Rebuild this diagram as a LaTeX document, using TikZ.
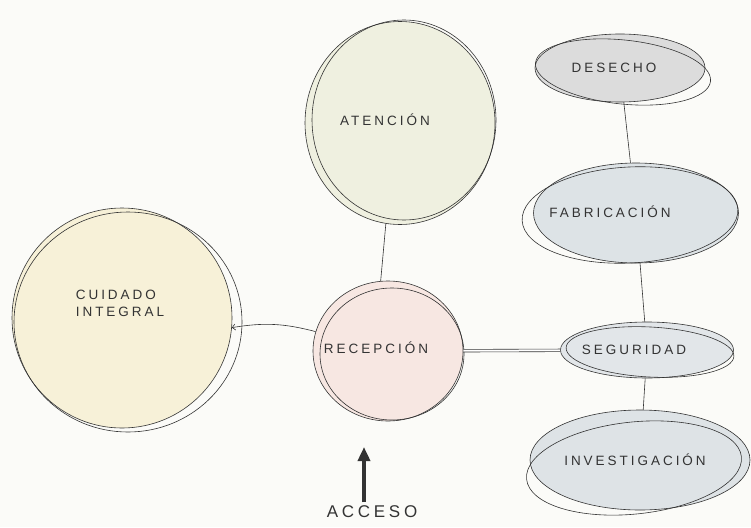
\documentclass[tikz,border=0pt]{standalone}
\usepackage{fontspec}
\setmainfont{Liberation Sans}
\newfontfamily\mano[LetterSpace=22]{Liberation Sans}
\usetikzlibrary{shapes.geometric,arrows.meta}
\definecolor{fondo}{HTML}{FBFBF8}
\definecolor{cuidado}{HTML}{F7F1D8}
\definecolor{atencion}{HTML}{EFF0E0}
\definecolor{recepcion}{HTML}{F7E7E2}
\definecolor{desecho}{HTML}{DCDCDC}
\definecolor{fabrica}{HTML}{DDE3E6}
\definecolor{seguridad}{HTML}{E2E6E9}
\definecolor{investiga}{HTML}{DEE3E6}
\begin{document}
\begin{tikzpicture}[x=1pt,y=-1pt,
  trazo/.style={draw=black!80,line width=0.6pt},
  burbuja/.style={trazo,ellipse,inner sep=0pt},
  rotulo/.style={font=\mano\fontsize{13.5}{17}\selectfont,text=black!80,align=left},
  enlace/.style={black!80,line width=0.6pt}]
\fill[fondo](0,0)rectangle(751,527);
\useasboundingbox(0,0)rectangle(751,527);
%
\node[burbuja,fill=cuidado,minimum width=220pt,minimum height=220pt](cui)at(122,318){};
\node[burbuja,fill=atencion,minimum width=190pt,minimum height=203pt](ate)at(400,123){};
\node[burbuja,fill=recepcion,minimum width=150pt,minimum height=140pt](rec)at(388,351){};
\node[burbuja,fill=desecho,minimum width=170pt,minimum height=68pt](des)at(620,68){};
\node[burbuja,fill=fabrica,minimum width=205pt,minimum height=100pt](fab)at(636,213){};
\node[burbuja,fill=seguridad,minimum width=173pt,minimum height=56pt](seg)at(647,350){};
\node[burbuja,fill=investiga,minimum width=220pt,minimum height=100pt](inv)at(640,460){};
%
\foreach \n/\dx/\dy/\rx/\ry/\r in {cui/6/4/114/110/0,ate/4/-3/92/100/0,rec/4/3/72/66/0,
  des/3/4/88/32/-6,fab/-6/2/108/48/3,seg/3/2/84/25/-3,inv/-6/8/108/46/6}
  \draw[trazo]([shift={(\dx,\dy)}]\n.center)ellipse[x radius=\rx pt,y radius=\ry pt,rotate=\r];
%
\node[rotulo](cuiT)at(120,303){CUIDADO\\INTEGRAL};
\node[rotulo](ateT)at(385,120){ATENCIÓN};
\node[rotulo](recT)at(376,348){RECEPCIÓN};
\node[rotulo](desT)at(614,68){DESECHO};
\node[rotulo](fabT)at(610,212){FABRICACIÓN};
\node[rotulo](segT)at(634,350){SEGURIDAD};
\node[rotulo](invT)at(635,460){INVESTIGACIÓN};
%===========================
\draw[enlace](ate.262)--(rec.96);
\draw[enlace,-{Straight Barb[length=3pt]}](rec.165)to[bend right=12](cui.-5);
\draw[enlace,double,double distance=2pt](rec)--(seg);
\draw[enlace](des)--(fab);
\draw[enlace](fab)--(seg);
\draw[enlace](seg)--(inv);
%================================
\node[font=\mano\fontsize{17}{19}\selectfont,text=black!80](acc)at(372,512){ACCESO};
\coordinate(entrada)at(364,447);
\draw[black!80,line width=4pt,-{Triangle[width=12pt,length=14pt]}]([xshift=-8pt]acc.north)--(entrada);
\end{tikzpicture}
\end{document}
